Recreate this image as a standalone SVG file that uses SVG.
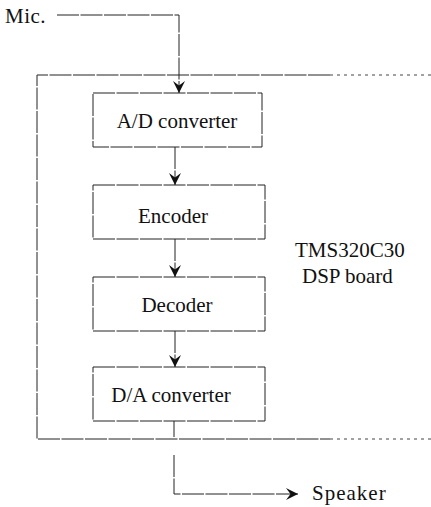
<svg xmlns="http://www.w3.org/2000/svg" width="431" height="507" viewBox="0 0 431 507">
<style>
.ln{fill:none;stroke:#222;stroke-width:1;stroke-dasharray:22 1.5}
.fd{fill:none;stroke:#444;stroke-width:1;stroke-dasharray:3 4}
.bx{fill:#fff;stroke:#222;stroke-width:1;stroke-dasharray:22 1.5}
.t{font-family:"Liberation Serif",serif;font-size:21px;fill:#111}
</style>
<defs>
<marker id="ah" markerWidth="14" markerHeight="13" refX="12" refY="6" orient="auto" markerUnits="userSpaceOnUse">
<path d="M0,0 L12,6 L0,12 L4.5,6 Z" fill="#111"/>
</marker>
</defs>
<g id="board">
<path class="ln" d="M330,75 H37 V439 H330"/>
<path class="fd" d="M330,75 H431 M330,439 H431"/>
<text class="t" x="295" y="257">TMS320C30</text>
<text class="t" x="302" y="283">DSP board</text>
</g>
<g id="mic"><text class="t" x="5" y="23" style="letter-spacing:0.5px">Mic.</text></g>
<g id="ad"><rect class="bx" x="93" y="93" width="169" height="54"/><text class="t" x="177" y="128" text-anchor="middle">A/D converter</text></g>
<g id="enc"><rect class="bx" x="93" y="185" width="172" height="54"/><text class="t" x="173" y="223" text-anchor="middle">Encoder</text></g>
<g id="dec"><rect class="bx" x="93" y="277" width="172" height="54"/><text class="t" x="177" y="312" text-anchor="middle">Decoder</text></g>
<g id="da"><rect class="bx" x="93" y="367" width="172" height="54"/><text class="t" x="171" y="402" text-anchor="middle">D/A converter</text></g>
<g id="speaker"><text class="t" x="312" y="500" style="letter-spacing:1px">Speaker</text></g>
<g id="connectors">
<path class="ln" d="M57,15 H179 V93" marker-end="url(#ah)"/>
<path class="ln" d="M175,147 V185" marker-end="url(#ah)"/>
<path class="ln" d="M175,239 V277" marker-end="url(#ah)"/>
<path class="ln" d="M175,331 V367" marker-end="url(#ah)"/>
<path class="ln" d="M174,421 V437"/>
<path class="ln" d="M174,455 V494 H298" marker-end="url(#ah)"/>
</g>
</svg>
